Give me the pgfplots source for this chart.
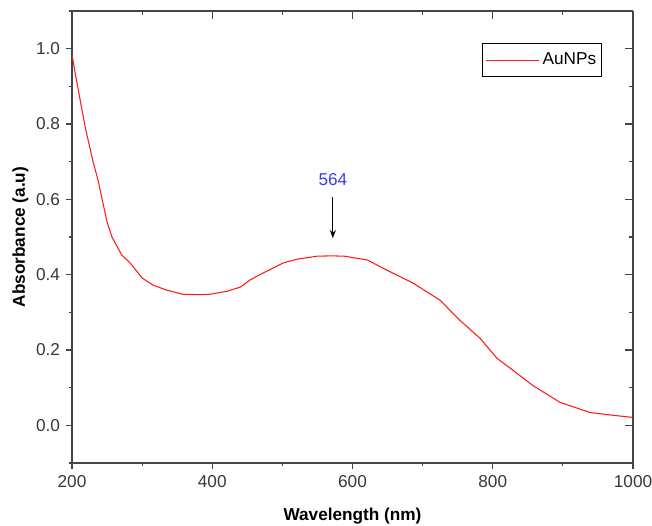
\documentclass[border=0pt]{standalone}
\usepackage{fontspec}
\setmainfont{Liberation Sans}
\usepackage{pgfplots}
\pgfplotsset{compat=1.18}
\usetikzlibrary{arrows.meta}
\definecolor{axgray}{HTML}{454545}
\definecolor{tickgray}{HTML}{383838}
\definecolor{lblue}{HTML}{3C3CF5}
\definecolor{curvered}{HTML}{FF1A1A}

\begin{document}
\fontsize{12.9}{15}\selectfont
\begin{tikzpicture}
\pgfplotsset{
  common/.style={
    scale only axis, width=420.75pt, height=339pt,
    xmin=200, xmax=1000, ymin=-0.1, ymax=1.1,
    xtick={200,400,600,800,1000}, minor xtick={300,500,700,900},
    ytick={0,0.2,0.4,0.6,0.8,1.0}, minor ytick={-0.1,0.1,0.3,0.5,0.7,0.9,1.1},
    axis line style={axgray, line width=1.1pt, -},
    major tick style={axgray, line width=0.9pt},
    minor tick style={axgray, line width=0.9pt},
  }
}
% bottom/left axis with labels, ticks outside
\begin{axis}[common, name=ax,
  axis x line*=bottom, axis y line*=left,
  tick align=outside,
  major tick length=4.5pt, minor tick length=2.25pt,
  /pgf/number format/assume math mode=true,
  yticklabel style={/pgf/number format/.cd, fixed, fixed zerofill, precision=1},
  xticklabel style={/pgf/number format/.cd, 1000 sep={}},
  tick label style={font=\fontsize{12.9}{15}\selectfont, text=tickgray},
  xlabel={\textbf{Wavelength (nm)}},
  ylabel={\textbf{Absorbance (a.u)}},
  xlabel style={at={(axis description cs:0.5,0)}, anchor=base, yshift=-42.75pt},
  ylabel style={at={(axis description cs:0,0.5)}, anchor=base, yshift=35.25pt},
  legend style={at={(axis description cs:1,1)}, anchor=north east,
    xshift=-23.25pt, yshift=-24pt, draw=black, line width=0.8pt,
    inner xsep=2pt, inner ysep=5pt,
    font=\fontsize{12.9}{15}\selectfont},
  legend image code/.code={\draw[#1, line width=0.75pt] (0pt,0pt) -- (40pt,0pt);},
]
\addplot[curvered, line width=0.8pt] coordinates {
 (200,0.985)(205,0.93)(214,0.84)(219,0.79)(230,0.70)(237,0.652)(243,0.60)
 (250,0.54)(257,0.50)(271,0.452)(283,0.431)(300,0.391)(316,0.372)(335,0.359)
 (358,0.348)(380,0.347)(397,0.348)(421,0.356)(440,0.367)(454,0.386)(472,0.404)
 (501,0.431)(521,0.441)(549,0.449)(570,0.450)(589,0.449)(621,0.439)(649,0.412)
 (686,0.378)(725,0.332)(753,0.279)(782,0.231)(806,0.178)(829,0.146)(857,0.106)
 (896,0.061)(939,0.034)(970,0.027)(1000,0.021)
};
\addlegendentry{AuNPs}
\draw[-{Stealth[length=6pt,width=4.5pt]}, line width=0.75pt, black]
  (axis cs:572,0.606) -- (axis cs:572,0.497);
\node[text=lblue, font=\fontsize{12.9}{15}\selectfont] at (axis cs:572,0.652) {564};
\end{axis}
% top/right axis, ticks inside, no labels
\begin{axis}[common,
  axis x line*=top, axis y line*=right,
  tick align=inside,
  major tick length=6pt, minor tick length=3pt,
  xticklabels={}, yticklabels={},
]
\end{axis}
\pgfresetboundingbox
\path[use as bounding box] ([xshift=-54pt,yshift=-46.5pt]ax.south west)
  rectangle ([xshift=14.25pt,yshift=8.25pt]ax.north east);
\end{tikzpicture}
\end{document}
